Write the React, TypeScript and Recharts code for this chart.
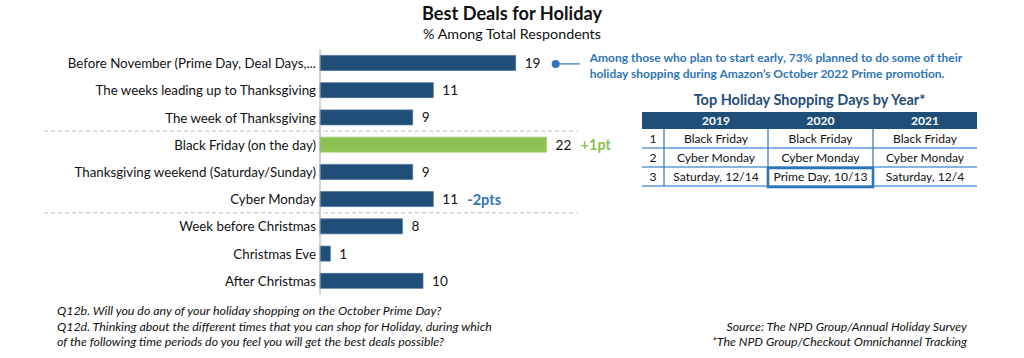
import React from "react";
import { BarChart, Bar, XAxis, YAxis, Cell, LabelList } from "recharts";

const categories = [
  "Before November (Prime Day, Deal Days,...",
  "The weeks leading up to Thanksgiving",
  "The week of Thanksgiving",
  "Black Friday (on the day)",
  "Thanksgiving weekend (Saturday/Sunday)",
  "Cyber Monday",
  "Week before Christmas",
  "Christmas Eve",
  "After Christmas",
];
const values = [19, 11, 9, 22, 9, 11, 8, 1, 10];
const changes = ["", "", "", "+1pt", "", "-2pts", "", "", ""];
const highlightedRows = ["Black Friday (on the day)"];
const separatorBefore = ["Black Friday (on the day)", "Week before Christmas"];

const calloutLines = [
  "Among those who plan to start early, 73% planned to do some of their",
  "holiday shopping during Amazon\u2019s October 2022 Prime promotion.",
];

const tableYears = ["2019", "2020", "2021"];
const tableRanks = ["1", "2", "3"];
const tableDays2019 = ["Black Friday", "Cyber Monday", "Saturday, 12/14"];
const tableDays2020 = ["Black Friday", "Cyber Monday", "Prime Day, 10/13"];
const tableDays2021 = ["Black Friday", "Cyber Monday", "Saturday, 12/4"];
const tableHighlight = { col: 2, row: 2 };

const footLeft = [
  "Q12b. Will you do any of your holiday shopping on the October Prime Day?",
  "Q12d. Thinking about the different times that you can shop for Holiday, during which",
  "of the following time periods do you feel you will get the best deals possible?",
];
const footRight = [
  "Source: The NPD Group/Annual Holiday Survey",
  "*The NPD Group/Checkout Omnichannel Tracking",
];

const data = categories.map((name, i) => ({
  name,
  value: values[i],
  change: changes[i],
}));

const FONT = "Lato, 'Open Sans', sans-serif";
const NAVY = "#1F4E79";
const BLUE = "#2E75B6";
const GREEN = "#8DC153";

const W = 1024;
const H = 358;
const M = { top: 49.4, bottom: 63.4, left: 0, right: 446.5 };
const Y_AXIS_W = 320;
const plotH = H - M.top - M.bottom;
const step = plotH / categories.length;

const CategoryTick = (props: any) => {
  const { x, y, payload } = props;
  const sep = separatorBefore.includes(payload.value);
  return (
    <g>
      {sep && (
        <line
          x1={44}
          x2={577.5}
          y1={y - step / 2}
          y2={y - step / 2}
          stroke="#BFBFBF"
          strokeWidth={1}
          strokeDasharray="4 3"
        />
      )}
      <text
        x={x}
        y={y}
        textAnchor="end"
        dominantBaseline="central"
        fontFamily={FONT}
        fontSize={13.3}
        fill="#111"
      >
        {payload.value}
      </text>
    </g>
  );
};

const ValueLabel = (props: any) => {
  const { x, y, width, height, value, index } = props;
  const end = Number(x) + Number(width);
  const cy = Number(y) + Number(height) / 2;
  const ch = changes[index];
  const isUp = ch.startsWith("+");
  return (
    <g>
      <text
        x={end + 9}
        y={cy}
        dominantBaseline="central"
        fontFamily={FONT}
        fontSize={13.6}
        fill="#111"
      >
        {value}
      </text>
      {ch && (
        <text
          x={end + 34}
          y={cy}
          dominantBaseline="central"
          fontFamily={FONT}
          fontSize={14.5}
          fontWeight="bold"
          fill={isUp ? GREEN : BLUE}
        >
          {ch}
        </text>
      )}
      {index === 0 && (
        <g>
          <circle cx={end + 40} cy={cy + 1} r={4} fill={BLUE} />
          <line x1={end + 40} x2={end + 64} y1={cy + 1} y2={cy + 1} stroke={BLUE} strokeWidth={1.2} />
          {calloutLines.map((t, k) => (
            <text
              key={k}
              x={end + 74}
              y={cy - 1 + k * 16}
              fontFamily={FONT}
              fontSize={12}
              fontWeight="bold"
              fill={BLUE}
            >
              {t}
            </text>
          ))}
        </g>
      )}
    </g>
  );
};

const colWidths = [22, 104, 105, 104];
const TABLE_X = 642;
const TABLE_Y = 112;
const HEAD_H = 17;
const ROW_H = 19;

const Table = () => {
  const colX: number[] = [];
  let acc = TABLE_X;
  colWidths.forEach((w) => {
    colX.push(acc);
    acc += w;
  });
  const right = acc;
  const tableW = right - TABLE_X;
  const cols = [tableRanks, tableDays2019, tableDays2020, tableDays2021];
  const bodyTop = TABLE_Y + HEAD_H;
  const bottom = bodyTop + ROW_H * tableRanks.length;
  return (
    <g fontFamily={FONT}>
      <text
        x={TABLE_X + tableW / 2}
        y={TABLE_Y - 7}
        textAnchor="middle"
        fontSize={14.5}
        fontWeight="bold"
        fill={NAVY}
      >
        Top Holiday Shopping Days by Year*
      </text>
      <rect x={TABLE_X} y={TABLE_Y} width={tableW} height={HEAD_H} fill={NAVY} />
      {tableYears.map((yr, i) => (
        <text
          key={yr}
          x={colX[i + 1] + colWidths[i + 1] / 2}
          y={TABLE_Y + HEAD_H / 2}
          dominantBaseline="central"
          textAnchor="middle"
          fontSize={12}
          fontWeight="bold"
          fill="#fff"
        >
          {yr}
        </text>
      ))}
      {tableRanks.map((_, r) => (
        <line
          key={"h" + r}
          x1={TABLE_X}
          x2={right}
          y1={bodyTop + ROW_H * (r + 1)}
          y2={bodyTop + ROW_H * (r + 1)}
          stroke="#5B9BD5"
          strokeWidth={1.3}
        />
      ))}
      {colX.slice(1).map((cx, i) => (
        <line key={"v" + i} x1={cx} x2={cx} y1={bodyTop} y2={bottom} stroke={BLUE} strokeWidth={1.2} />
      ))}
      {cols.map((col, c) =>
        col.map((txt, r) => (
          <text
            key={c + "-" + r}
            x={colX[c] + colWidths[c] / 2}
            y={bodyTop + ROW_H * r + ROW_H / 2}
            dominantBaseline="central"
            textAnchor="middle"
            fontSize={12.1}
            fill="#111"
          >
            {txt}
          </text>
        ))
      )}
      <rect
        x={colX[tableHighlight.col]}
        y={bodyTop + ROW_H * tableHighlight.row + 1}
        width={colWidths[tableHighlight.col]}
        height={ROW_H}
        fill="none"
        stroke={BLUE}
        strokeWidth={2.6}
      />
    </g>
  );
};

export default function App() {
  return (
    <div
      style={{
        position: "absolute",
        left: 0,
        top: 0,
        width: W,
        height: H,
        background: "#fff",
        overflow: "hidden",
      }}
    >
      <BarChart
        width={W}
        height={H}
        data={data}
        layout="vertical"
        margin={M}
        barSize={15}
      >
        <XAxis type="number" domain={[0, 25]} hide />
        <YAxis
          type="category"
          dataKey="name"
          width={Y_AXIS_W}
          axisLine={{ stroke: "#A6A6A6", strokeWidth: 1 }}
          tickLine={false}
          tickSize={4}
          tickMargin={0}
          interval={0}
          tick={<CategoryTick />}
        />
        <Bar dataKey="value" isAnimationActive={false} stroke="#4F7299" strokeWidth={0.8}>
          {data.map((d) => (
            <Cell
              key={d.name}
              fill={highlightedRows.includes(d.name) ? GREEN : NAVY}
              stroke={highlightedRows.includes(d.name) ? "#A9D27E" : "#4F7299"}
            />
          ))}
          <LabelList dataKey="value" content={<ValueLabel />} />
        </Bar>
      </BarChart>
      <svg
        width={W}
        height={H}
        style={{ position: "absolute", left: 0, top: 0, pointerEvents: "none" }}
      >
        <g fontFamily={FONT} fill="#111">
          <text x={512} y={20} textAnchor="middle" fontSize={18.2} fontWeight="bold">
            Best Deals for Holiday
          </text>
          <text x={512} y={39} textAnchor="middle" fontSize={14.3}>
            % Among Total Respondents
          </text>
          {footLeft.map((t, i) => (
            <text key={"fl" + i} x={57} y={315 + i * 15.5} fontSize={12.4} fontStyle="italic">
              {t}
            </text>
          ))}
          {footRight.map((t, i) => (
            <text key={"fr" + i} x={967} y={330.5 + i * 15.5} fontSize={12.3} fontStyle="italic" textAnchor="end">
              {t}
            </text>
          ))}
        </g>
        <Table />
      </svg>
    </div>
  );
}
